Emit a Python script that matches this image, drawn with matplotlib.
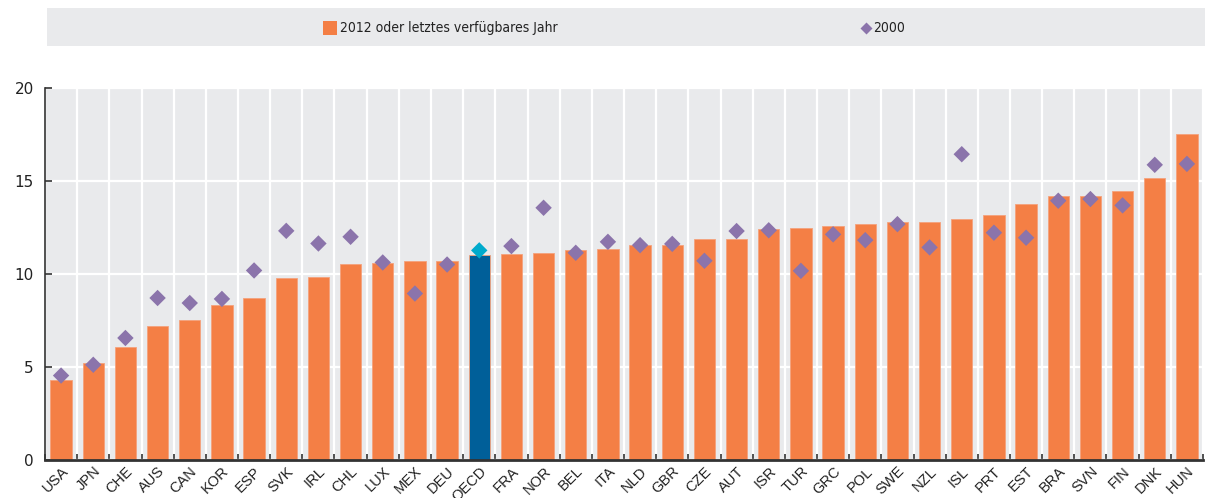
import numpy as np
import matplotlib
matplotlib.use("Agg")
import matplotlib.pyplot as plt
from matplotlib.patches import Rectangle
from matplotlib.lines import Line2D

countries = ["USA", "JPN", "CHE", "AUS", "CAN", "KOR", "ESP", "SVK", "IRL", "CHL",
             "LUX", "MEX", "DEU", "OECD", "FRA", "NOR", "BEL", "ITA", "NLD", "GBR",
             "CZE", "AUT", "ISR", "TUR", "GRC", "POL", "SWE", "NZL", "ISL", "PRT",
             "EST", "BRA", "SVN", "FIN", "DNK", "HUN"]
latest = [4.31, 5.23, 6.07, 7.19, 7.51, 8.35, 8.73, 9.81, 9.86, 10.56,
          10.58, 10.69, 10.69, 11.03, 11.08, 11.12, 11.28, 11.32, 11.57, 11.57,
          11.88, 11.89, 12.42, 12.47, 12.59, 12.68, 12.77, 12.81, 12.95, 13.15,
          13.75, 14.18, 14.18, 14.45, 15.16, 17.55]
y2000 = [4.54, 5.12, 6.56, 8.71, 8.44, 8.66, 10.19, 12.32, 11.64, 12.0,
         10.62, 8.95, 10.51, 11.27, 11.5, 13.56, 11.14, 11.73, 11.55, 11.62,
         10.71, 12.31, 12.35, 10.17, 12.13, 11.82, 12.68, 11.43, 16.44, 12.22,
         11.95, 13.94, 14.03, 13.69, 15.87, 15.92]

ORANGE = "#F47F45"
BLUE = "#005F99"
PURPLE = "#8B74AB"
CYAN = "#00AACC"
BG = "#E9EAEC"

plt.rcParams['font.family'] = ['DejaVu Sans']

fig = plt.figure(figsize=(12.05, 4.98), dpi=100)
ax = fig.add_axes([45 / 1205, 38 / 498, 1158 / 1205, 372 / 498])

x = np.arange(len(countries))
bar_colors = [BLUE if c == "OECD" else ORANGE for c in countries]
dia_colors = [CYAN if c == "OECD" else PURPLE for c in countries]

ax.set_facecolor(BG)
ax.bar(x, latest, width=0.66, color=bar_colors, edgecolor="#F5A27C", linewidth=0.6, zorder=2)
ax.scatter(x, y2000, marker="D", s=70, color=dia_colors, edgecolor="none", zorder=3)

ax.set_xlim(-0.5, len(countries) - 0.5)
ax.set_ylim(0, 20)
ax.set_yticks([0, 5, 10, 15, 20])
ax.set_xticks(x)
ax.set_xticklabels(countries, rotation=45, ha="right", rotation_mode="anchor",
                   fontsize=10.5, family="Liberation Sans", color="#222222")
ax.set_xticks(np.arange(-0.5, len(countries), 1), minor=True)
ax.tick_params(axis="x", which="major", length=0, pad=3)
ax.tick_params(axis="x", which="minor", direction="in", length=4, width=1.2, color="#333333")
ax.tick_params(axis="y", direction="in", length=5, width=1.2, color="#333333",
               labelsize=11, labelcolor="#222222", pad=8)

ax.set_axisbelow(True)
ax.grid(axis="y", color="white", linewidth=1.6)
ax.grid(axis="x", which="minor", color="white", linewidth=1.6)
ax.grid(axis="x", which="major", visible=False)

for side in ["top", "right"]:
    ax.spines[side].set_visible(False)
ax.spines["left"].set_color("#333333")
ax.spines["left"].set_linewidth(1.2)
ax.spines["bottom"].set_color("#333333")
ax.spines["bottom"].set_linewidth(2)

# legend band
fig.patches.append(Rectangle((47 / 1205, 1 - 46 / 498), 1158 / 1205, 38 / 498,
                             transform=fig.transFigure, facecolor=BG, edgecolor="none", zorder=0))
fig.patches.append(Rectangle((323 / 1205, 1 - 35 / 498), 14 / 1205, 14 / 498,
                             transform=fig.transFigure, facecolor=ORANGE, edgecolor="none"))
fig.text(340 / 1205, 1 - 28 / 498, "2012 oder letztes verfügbares Jahr", fontsize=10,
         fontstretch="condensed", va="center", ha="left", color="#222222")
fig.lines.append(Line2D([866 / 1205], [1 - 28 / 498], marker="D", markersize=6,
                        color=PURPLE, markeredgecolor="none", transform=fig.transFigure))
fig.text(873 / 1205, 1 - 28 / 498, "2000", fontsize=10, fontstretch="condensed",
         va="center", ha="left", color="#222222")

fig.savefig("out.png", dpi=100)
